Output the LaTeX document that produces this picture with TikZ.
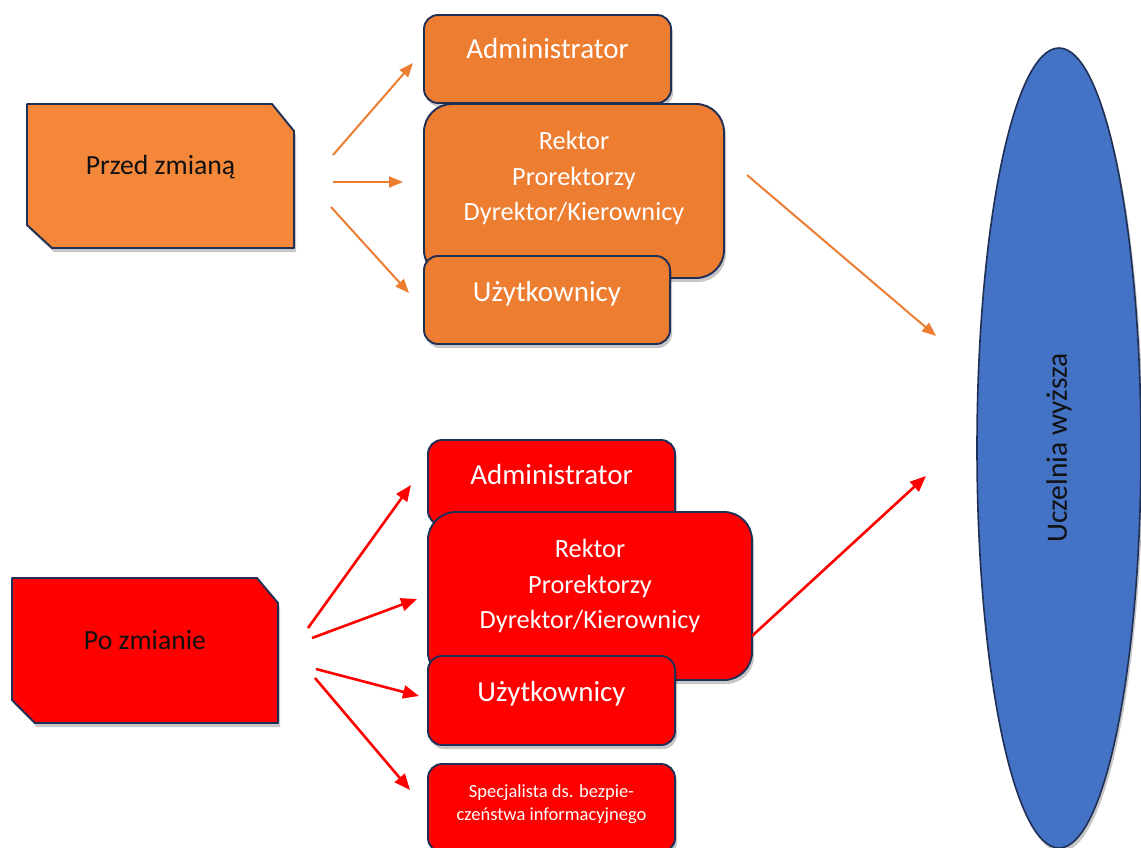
\documentclass[tikz,border=0pt]{standalone}
\usepackage{fontspec}
\setmainfont{Carlito}
\usetikzlibrary{arrows.meta,shapes.geometric,shadows,backgrounds}

\definecolor{navy}{HTML}{1F2F55}
\definecolor{orangeA}{HTML}{ED7D31}
\definecolor{orangeL}{HTML}{F4873A}
\definecolor{redB}{HTML}{FF0000}
\definecolor{blueU}{HTML}{4472C4}
\definecolor{ink}{HTML}{111111}

% extra depth under the last line lifts the text inside its box
\newcommand\boxlift[1]{\rule[-#1]{0pt}{0pt}}

\tikzset{
  soft/.style={drop shadow={shadow xshift=2pt, shadow yshift=-4pt, opacity=0.22, fill=black}},
  rolebox/.style={draw=navy, line width=1.9pt, rounded corners=14pt, text=white,
                  soft, inner sep=0pt, outer sep=0pt, align=center,
                  font=\fontsize{29}{34}\selectfont},
  bigbox/.style={rolebox, rounded corners=28pt, font=\fontsize{26.3}{35.5}\selectfont},
  smallbox/.style={rolebox, font=\fontsize{18.5}{23}\selectfont},
  slabtext/.style={inner sep=0pt, outer sep=0pt, text=ink, align=center,
                   font=\fontsize{27.7}{33}\selectfont},
  slab/.style={draw=navy, line width=1.9pt, line join=round, soft},
  flow/.style={line width=2pt, -{Triangle[length=14pt,width=11pt]}},
  boldflow/.style={line width=2.6pt, -{Triangle[length=16pt,width=13pt]}},
}

\begin{document}
\begin{tikzpicture}[x=1pt,y=-1pt]
\useasboundingbox (0,0) rectangle (1141,847);
\begin{scope}[on background layer]
  \fill[white] (0,0) rectangle (1141,847);
\end{scope}

% the university
\node[ellipse, draw=navy, line width=1.6pt, fill=blueU, soft, rotate=90,
      minimum width=800pt, minimum height=164pt, inner sep=0pt,
      font=\fontsize{29.5}{34}\selectfont, text=ink] (uczelnia) at (1059,448) {Uczelnia wyższa};

% before the change
\node[slabtext, minimum width=267pt, minimum height=144pt] (przed) at (160.5,176) {Przed zmianą\boxlift{22pt}};
\begin{scope}[on background layer]
  \filldraw[slab, fill=orangeL]
    (przed.north west) -- ([xshift=-22pt]przed.north east) -- ([yshift=-27pt]przed.north east)
    -- (przed.south east) -- ([xshift=25pt]przed.south west) -- ([yshift=23pt]przed.south west) -- cycle;
\end{scope}

\node[rolebox, fill=orangeA, minimum width=247pt, minimum height=88pt] (adminA) at (547.5,59) {Administrator\boxlift{22pt}};
\node[bigbox, fill=orangeA, minimum width=300pt, minimum height=174pt] (rektorA) at (574,191)
  {Rektor\\Prorektorzy\\Dyrektor/Kierownicy\boxlift{30pt}};
\node[rolebox, fill=orangeA, minimum width=246pt, minimum height=88pt] (userA) at (547,300) {Użytkownicy\boxlift{18pt}};

% after the change
\node[slabtext, minimum width=266pt, minimum height=145pt] (po) at (145,650.5) {Po zmianie\boxlift{21pt}};
\begin{scope}[on background layer]
  \filldraw[slab, fill=redB]
    (po.north west) -- ([xshift=-21pt]po.north east) -- ([yshift=-25pt]po.north east)
    -- (po.south east) -- ([xshift=23pt]po.south west) -- ([yshift=23pt]po.south west) -- cycle;
\end{scope}

\node[rolebox, fill=redB, minimum width=247pt, minimum height=85pt] (adminB) at (551.5,482.5) {Administrator\boxlift{16pt}};
\node[bigbox, fill=redB, minimum width=324pt, minimum height=168pt] (rektorB) at (590,596)
  {Rektor\\Prorektorzy\\Dyrektor/Kierownicy\boxlift{24pt}};
\node[rolebox, fill=redB, minimum width=247pt, minimum height=89pt] (userB) at (551.5,700.5) {Użytkownicy\boxlift{18pt}};
\node[smallbox, fill=redB, minimum width=247pt, minimum height=88pt] (specB) at (551.5,808)
  {Specjalista ds. bezpie-\\czeństwa informacyjnego\boxlift{10pt}};

% arrow ends
\coordinate (a1s) at (333,155); \coordinate (a1e) at (413,63);
\coordinate (a2s) at (333,182); \coordinate (a2e) at (403,182);
\coordinate (a3s) at (331,207); \coordinate (a3e) at (409,293);
\coordinate (a4s) at (747,175); \coordinate (a4e) at (936,336);
\coordinate (b1s) at (308,628); \coordinate (b1e) at (411,485);
\coordinate (b2s) at (312,638); \coordinate (b2e) at (417,599);
\coordinate (b3s) at (316,669); \coordinate (b3e) at (419,696);
\coordinate (b4s) at (315,678); \coordinate (b4e) at (410,790);
\coordinate (b5s) at (752,636); \coordinate (b5e) at (926,476);

\draw[flow, orangeA] (a1s) -- (a1e);
\draw[flow, orangeA] (a2s) -- (a2e);
\draw[flow, orangeA] (a3s) -- (a3e);
\draw[flow, orangeA] (a4s) -- (a4e);
\draw[boldflow, redB] (b1s) -- (b1e);
\draw[boldflow, redB] (b2s) -- (b2e);
\draw[boldflow, redB] (b3s) -- (b3e);
\draw[boldflow, redB] (b4s) -- (b4e);
\draw[boldflow, redB] (b5s) -- (b5e);
\end{tikzpicture}
\end{document}
